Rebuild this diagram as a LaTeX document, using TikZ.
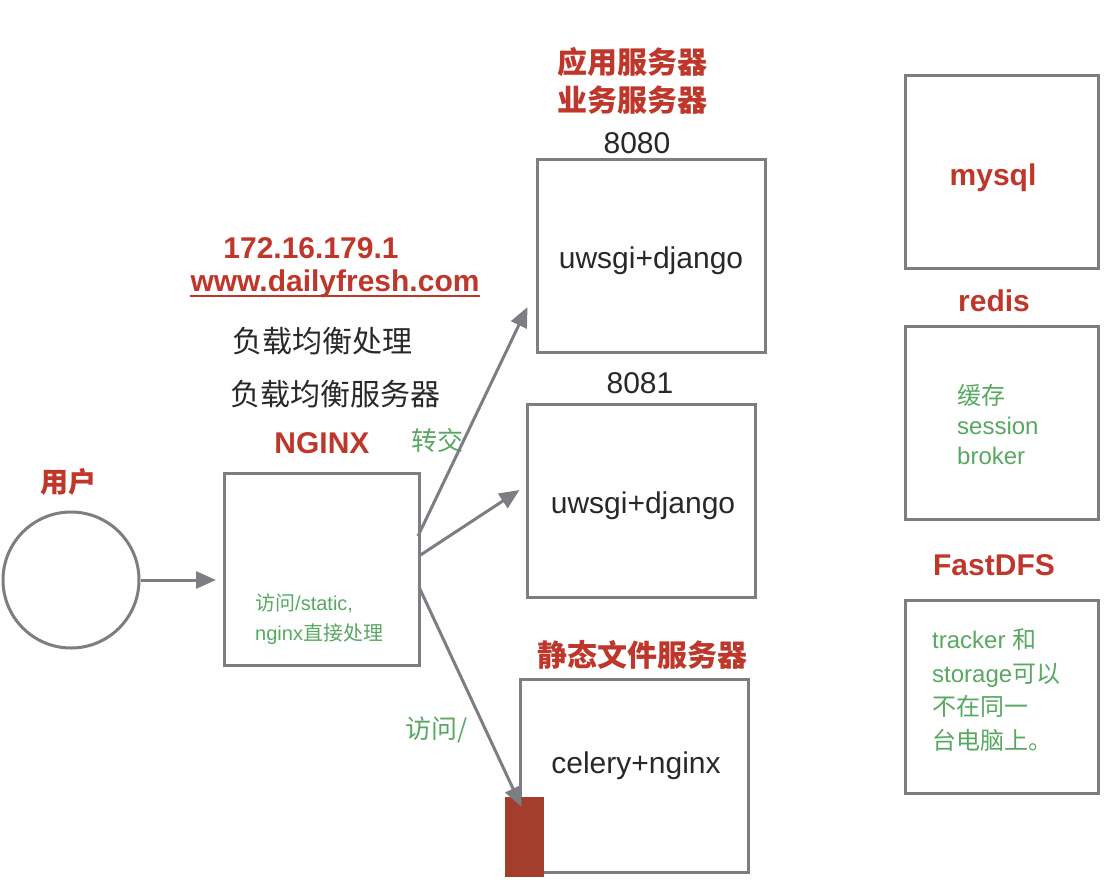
\documentclass[tikz,border=0pt]{standalone}
\usepackage{fontspec}
\setmainfont{Liberation Sans}
\newfontfamily\cjk{Noto Sans CJK SC}
\usetikzlibrary{arrows.meta,calc}

\definecolor{headred}{RGB}{190,55,42}
\definecolor{notegreen}{RGB}{88,168,98}
\definecolor{linegray}{RGB}{125,126,132}
\definecolor{textgray}{RGB}{40,40,40}
\definecolor{blockred}{RGB}{163,62,45}

\tikzset{
  head/.style={text=headred, font=\fontsize{30}{34}\selectfont\bfseries, inner sep=0pt},
  headcjk/.style={head, font=\fontsize{30}{34}\selectfont\cjk\bfseries},
  plain/.style={text=textgray, font=\fontsize{30}{34}\selectfont, inner sep=0pt},
  plaincjk/.style={plain, font=\fontsize{30}{34}\selectfont\cjk},
  note/.style={text=notegreen, font=\fontsize{24}{30}\selectfont, inner sep=0pt, align=left},
  box/.style={draw=linegray, line width=3pt, inner sep=0pt},
  servbox/.style={box, minimum width=228pt, minimum height=193pt},
  sidebox/.style={box, minimum width=193pt, minimum height=193pt},
  arr/.style={draw=linegray, line width=3pt, -{Triangle[length=20pt,width=17pt]}},
}

\begin{document}
\begin{tikzpicture}[x=1pt,y=-1pt]
\useasboundingbox (0,0) rectangle (1120,892);

% user
\node[circle, draw=linegray, line width=3pt, minimum size=136pt] (user) at (71,580) {};
\node[headcjk, font=\fontsize{28}{30}\selectfont\cjk\bfseries] (userlbl) at (68,482) {用户};

% load balancer
\node[box, minimum width=195pt, minimum height=192pt] (nginx) at (322,569) {};
\node[head, anchor=base] (nginxlbl) at (322,453) {NGINX};
\node[plaincjk] (lbserver) at (335,394) {负载均衡服务器};
\node[plaincjk] (lbdo) at (322,341) {负载均衡处理};
\node[head, anchor=base] (url) at (335,291) {www.dailyfresh.com};
\draw[headred, line width=1.6pt] ($(url.base west)+(0,5)$) -- ($(url.base east)+(0,5)$);
\node[head, anchor=base] (ip) at (311,258) {172.16.179.1};
\node[note, font=\fontsize{20}{30}\selectfont, anchor=base west] (static) at (255,640)
  {{\cjk 访问}/static,\\nginx{\cjk 直接处理}};
\node[note, font=\fontsize{26}{30}\selectfont\cjk] (fwd) at (437,441) {转交};
\node[note, font=\fontsize{26}{30}\selectfont\cjk] (visit) at (437,730) {访问/};

% application servers
\node[headcjk] (apptitle) at (632,62) {应用服务器};
\node[headcjk] (biztitle) at (632,100) {业务服务器};
\node[plain, anchor=base] (port1) at (637,153) {8080};
\node[servbox] (app1) at (651,256) {};
\node[plain, anchor=base] (app1txt) at (651,268) {uwsgi+django};
\node[plain, anchor=base] (port2) at (640,393) {8081};
\node[servbox] (app2) at (641,501) {};
\node[plain, anchor=base] (app2txt) at (643,513) {uwsgi+django};

% static files
\node[headcjk] (stattitle) at (642,655) {静态文件服务器};
\node[servbox] (stat) at (634,776) {};
\node[plain, anchor=base] (stattxt) at (636,773) {celery+nginx};
\node[fill=blockred, minimum width=39pt, minimum height=80pt, inner sep=0pt] (block) at (524.5,837) {};

% right column
\node[sidebox] (mysql) at (1002,171.5) {};
\node[head, anchor=base] (mysqltxt) at (993,185) {mysql};
\node[head, anchor=base] (redislbl) at (994,311) {redis};
\node[sidebox] (redis) at (1002,422.5) {};
\node[note, anchor=base west] (redistxt) at (957,464) {{\cjk 缓存}\\session\\broker};
\node[head, anchor=base] (fdfslbl) at (994,575) {FastDFS};
\node[sidebox] (fdfs) at (1002,697) {};
\node[note, font=\fontsize{24}{33.5}\selectfont, anchor=base west] (fdfstxt) at (932,749)
  {tracker {\cjk 和}\\storage{\cjk 可以}\\{\cjk 不在同一}\\{\cjk 台电脑上。}};

% connectors
\draw[arr] (user.east) -- ($(user.east -| nginx.west)+(-7,0)$);
\draw[arr] ($(nginx.east)+(-3,-33)$) -- ($(app1.south west)+(-8,-47)$);
\draw[arr] ($(nginx.east)+(-2,-13)$) -- ($(app2.west)+(-6,-11)$);
\draw[arr] ($(nginx.east)+(-2,18)$) -- ($(block.north)+(-3,10)$);
\end{tikzpicture}
\end{document}
